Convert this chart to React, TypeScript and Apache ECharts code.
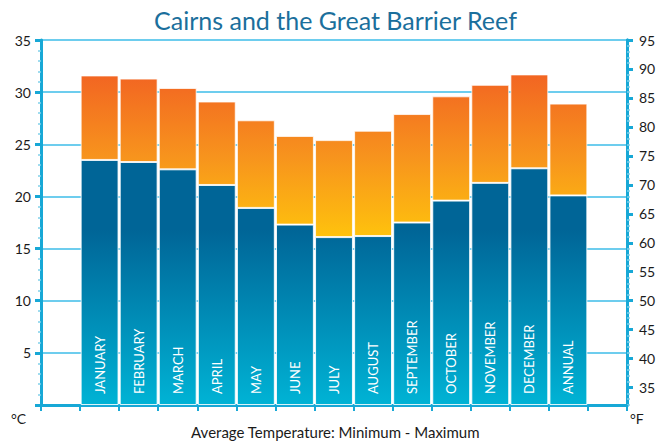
import React, { useEffect, useRef } from "react";
import * as echarts from "echarts";

const categories = ["", "JANUARY", "FEBRUARY", "MARCH", "APRIL", "MAY", "JUNE", "JULY", "AUGUST", "SEPTEMBER", "OCTOBER", "NOVEMBER", "DECEMBER", "ANNUAL", ""];
const minTemps: (number | null)[] = [null, 23.5, 23.3, 22.6, 21.1, 18.9, 17.3, 16.1, 16.2, 17.5, 19.6, 21.3, 22.7, 20.1, null];
const maxTemps: (number | null)[] = [null, 31.6, 31.3, 30.4, 29.1, 27.3, 25.8, 25.4, 26.3, 27.9, 29.6, 30.7, 31.7, 28.9, null];
const fahrenheitLabels = [35, 40, 45, 50, 55, 60, 65, 70, 75, 80, 85, 90, 95];

const FONT = "Lato";
const AXIS = "#17a8d6";
const GRID = "#3dbde9";

export default function App() {
  const ref = useRef<HTMLDivElement>(null);
  useEffect(() => {
    const chart = echarts.init(ref.current!, null, { renderer: "svg" });
    const range = maxTemps.map((v, i) => (v == null || minTemps[i] == null ? "-" : +(v - (minTemps[i] as number)).toFixed(2)));
    const mins = minTemps.map((v) => (v == null ? "-" : v));
    const blue = new echarts.graphic.LinearGradient(0, 230, 0, 405, [
      { offset: 0, color: "#006597" },
      { offset: 1, color: "#00b3d5" },
    ], true);
    const orange = new echarts.graphic.LinearGradient(0, 75, 0, 240, [
      { offset: 0, color: "#f26522" },
      { offset: 0.5, color: "#f7941d" },
      { offset: 1, color: "#ffc40c" },
    ], true);
    chart.setOption({
      animation: false,
      title: {
        text: "Cairns and the Great Barrier Reef",
        left: "center",
        top: 2,
        textStyle: { color: "#1b6f9c", fontSize: 25, fontWeight: "normal", fontFamily: FONT },
      },
      grid: { left: 41, right: 44, top: 40, bottom: 40, containLabel: false },
      xAxis: {
        type: "category",
        data: categories,
        boundaryGap: true,
        axisLine: { show: true, lineStyle: { color: AXIS, width: 3 } },
        axisTick: { show: true, interval: 0, length: 6, lineStyle: { color: AXIS, width: 2 } },
        axisLabel: { show: false, interval: 0 },
        splitLine: { show: false },
      },
      yAxis: [
        {
          type: "value",
          min: 0,
          max: 35,
          interval: 5,
          position: "left",
          axisLine: { show: true, lineStyle: { color: AXIS, width: 3 } },
          axisTick: { show: true, length: 6, lineStyle: { color: AXIS, width: 3 } },
          minorTick: { show: true, splitNumber: 5, length: 3, lineStyle: { color: "#7fd0ea", width: 1.5 } },
          axisLabel: {
            color: "#1a1a1a",
            fontSize: 14,
            fontFamily: FONT,
            margin: 10,
            formatter: (v: number) => (v === 0 ? "" : String(v)),
          },
          splitLine: { show: true, lineStyle: { color: GRID, width: 1.5 } },
        },
        {
          type: "value",
          min: 32,
          max: 95,
          interval: 1,
          position: "right",
          axisLine: { show: true, lineStyle: { color: AXIS, width: 3 } },
          axisTick: { show: true, length: 3, lineStyle: { color: "#7fd0ea", width: 1.5 } },
          axisLabel: { show: false },
          splitLine: { show: false },
        },
        {
          type: "value",
          min: 32,
          max: 95,
          position: "right",
          axisLine: { show: true, lineStyle: { color: AXIS, width: 3 } },
          axisTick: { show: true, length: 6, customValues: fahrenheitLabels, lineStyle: { color: AXIS, width: 3 } },
          axisLabel: {
            customValues: fahrenheitLabels,
            color: "#1a1a1a",
            fontSize: 14,
            fontFamily: FONT,
            margin: 12,
          },
          splitLine: { show: false },
        },
      ],
      series: [
        {
          name: "Minimum",
          type: "bar",
          stack: "t",
          yAxisIndex: 0,
          barCategoryGap: "3%",
          data: mins,
          itemStyle: { color: blue, borderColor: "rgba(255,255,255,0.85)", borderWidth: 1 },
          label: {
            show: true,
            position: "insideBottom",
            rotate: 90,
            align: "left",
            verticalAlign: "middle",
            distance: 11,
            color: "#ffffff",
            fontSize: 13,
            fontFamily: FONT,
            formatter: (p: any) => p.name,
          },
        },
        {
          name: "Maximum",
          type: "bar",
          stack: "t",
          yAxisIndex: 0,
          barCategoryGap: "3%",
          data: range,
          itemStyle: { color: orange, borderColor: "rgba(255,255,255,0.75)", borderWidth: 1 },
        },
      ],
      graphic: [
        { type: "text", left: 11, top: 411, style: { text: "°C", fill: "#1a1a1a", fontSize: 14, fontFamily: FONT } },
        { type: "text", left: 630, top: 411, style: { text: "°F", fill: "#1a1a1a", fontSize: 14, fontFamily: FONT } },
        {
          type: "text",
          left: "center",
          top: 424,
          style: { text: "Average Temperature: Minimum - Maximum", fill: "#1a1a1a", fontSize: 15, fontFamily: FONT },
        },
      ],
    });
    return () => chart.dispose();
  }, []);
  return <div ref={ref} style={{ width: 671, height: 445, position: "absolute", left: 0, top: 0 }} />;
}
